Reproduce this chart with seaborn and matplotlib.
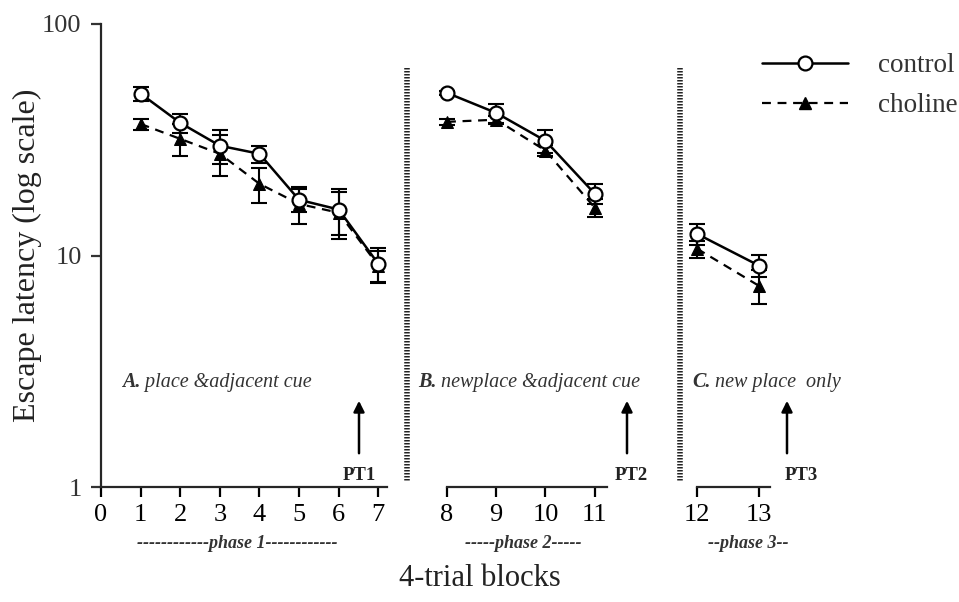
import matplotlib
matplotlib.use("Agg")
import matplotlib.pyplot as plt
import seaborn as sns
import numpy as np
import pandas as pd
from matplotlib.lines import Line2D

# ---------------- data ----------------
blocks_A = [1, 2, 3, 4, 5, 6, 7]
control_A = [50.0, 37.4, 29.8, 27.5, 17.4, 15.8, 9.2]
control_A_sem = [3.5, 3.5, 5.0, 2.3, 2.0, 3.5, 1.6]
choline_A = [37.0, 31.9, 27.5, 20.4, 16.7, 15.3, 9.05]
choline_A_sem = [2.0, 5.0, 5.5, 3.5, 3.0, 3.5, 1.4]

blocks_B = [8, 9, 10, 11]
control_B = [50.4, 41.3, 31.3, 18.5]
control_B_sem = [1.0, 4.0, 3.5, 1.8]
choline_B = [37.8, 38.6, 28.4, 16.1]
choline_B_sem = [1.0, 1.5, 1.5, 1.5]

blocks_C = [12, 13]
control_C = [12.4, 9.05]
control_C_sem = [1.3, 1.0]
choline_C = [10.7, 7.4]
choline_C_sem = [0.9, 1.25]

ticks_A = [0, 1, 2, 3, 4, 5, 6, 7]
ticks_B = [8, 9, 10, 11]
ticks_C = [12, 13]
y_ticks = [1, 10, 100]
y_tick_labels = ["1", "10", "100"]

panel_letters = ["A.", "B.", "C."]
panel_titles = [" place &adjacent cue", " newplace &adjacent cue", " new place  only"]
probe_labels = ["PT1", "PT2", "PT3"]
phase_labels = ["------------phase 1------------", "-----phase 2-----", "--phase 3--"]

# ---------------- style ----------------
sns.set_theme(style="ticks")
plt.rcParams['font.family'] = ['Liberation Serif', 'DejaVu Serif']
plt.rcParams['axes.linewidth'] = 1.6

W, H = 959, 602
fig = plt.figure(figsize=(W / 100, H / 100), dpi=100)

def fx(px):
    return px / W

def fy(py):
    return 1 - py / H

y_top, y_bot = 24, 487
axes_spec = [
    (101, 387, blocks_A, control_A, control_A_sem, choline_A, choline_A_sem, ticks_A, (0, 7.22)),
    (447, 607, blocks_B, control_B, control_B_sem, choline_B, choline_B_sem, ticks_B, (8, 11.25)),
    (697, 770, blocks_C, control_C, control_C_sem, choline_C, choline_C_sem, ticks_C, (12, 13.18)),
]

axes = []
for i, (l, r, bx, cy, cs, hy, hs, tks, xl) in enumerate(axes_spec):
    ax = fig.add_axes([fx(l), fy(y_bot), (r - l) / W, (y_bot - y_top) / H])
    axes.append(ax)
    df_c = pd.DataFrame({"block": bx, "latency": cy})
    df_h = pd.DataFrame({"block": bx, "latency": hy})
    ax.errorbar(bx, cy, yerr=cs, fmt='none', ecolor='black', elinewidth=1.5,
                capsize=6, capthick=1.5, zorder=2, clip_on=False)
    ax.errorbar(bx, hy, yerr=hs, fmt='none', ecolor='black', elinewidth=1.5,
                capsize=6, capthick=1.5, zorder=2, clip_on=False)
    sns.lineplot(data=df_h, x="block", y="latency", ax=ax, color='black',
                 linewidth=1.6, linestyle=(0, (4, 3)), marker='^', markersize=9,
                 markerfacecolor='black', markeredgecolor='black', zorder=3,
                 clip_on=False)
    sns.lineplot(data=df_c, x="block", y="latency", ax=ax, color='black',
                 linewidth=1.8, marker='o', markersize=10,
                 markerfacecolor='white', markeredgecolor='black',
                 markeredgewidth=1.6, zorder=4, clip_on=False)
    ax.set_yscale('log')
    ax.set_ylim(1, 100)
    ax.set_xlim(*xl)
    ax.set_xticks(tks)
    ax.set_xticklabels([str(t) for t in tks])
    ax.minorticks_off()
    ax.set_xlabel("")
    ax.set_ylabel("")
    ax.tick_params(axis='x', direction='out', length=7, width=1.6, pad=5,
                   labelsize=19, colors='black')
    for s in ['top', 'right']:
        ax.spines[s].set_visible(False)
    ax.patch.set_alpha(0)
    if i == 0:
        ax.set_yticks(y_ticks)
        ax.set_yticklabels(y_tick_labels)
        ax.minorticks_off()
        ax.tick_params(axis='y', direction='out', length=7, width=1.6, pad=7,
                       labelsize=19, colors='#333333')
        ax.set_ylabel("Escape latency (log scale)", fontsize=23, labelpad=0,
                      color='#222222')
    else:
        ax.spines['left'].set_visible(False)
        ax.set_yticks([])

# separators
for xs in (407, 680):
    fig.add_artist(Line2D([fx(xs), fx(xs)], [fy(68), fy(482)], color='#222222',
                          linewidth=4, linestyle=(0, (0.27, 0.27))))

# panel titles
title_pos = [(122, 382), (418, 382), (692, 382)]
for let, t, (px, py) in zip(panel_letters, panel_titles, title_pos):
    tx = fig.text(fx(px), fy(py), let, fontsize=14.5, style='italic', fontweight='bold',
                  color='#333333', ha='left', va='center')
    fig.canvas.draw()
    bb = tx.get_window_extent()
    fig.text(bb.x1 / W, fy(py), t, fontsize=14.5, style='italic', color='#333333',
             ha='left', va='center')

# probe-trial arrows and labels
arrows = [(359, 359, 476), (627, 631, 476), (787, 801, 476)]
for lab, (axp, lx, ly) in zip(probe_labels, arrows):
    fig.add_artist(matplotlib.patches.FancyArrowPatch(
        (fx(axp), fy(456)), (fx(axp), fy(398)), transform=fig.transFigure,
        arrowstyle='-|>', mutation_scale=16, color='black', linewidth=1.8))
    fig.text(fx(lx), fy(ly), lab, fontsize=13.5, fontweight='bold',
             ha='center', va='center', color='#222222')

# phase labels
phase_pos = [(237, 544), (523, 544), (748, 544)]
for t, (px, py) in zip(phase_labels, phase_pos):
    fig.text(fx(px), fy(py), t, fontsize=13, style='italic', fontweight='bold',
             ha='center', va='center', color='#333333')

fig.text(fx(480), fy(578), "4-trial blocks", fontsize=22, ha='center', va='center',
         color='#222222')

# legend
handles = [
    Line2D([], [], color='black', linewidth=1.8, marker='o', markersize=10,
           markerfacecolor='white', markeredgecolor='black', markeredgewidth=1.6),
    Line2D([], [], color='black', linewidth=1.6, linestyle=(0, (4, 3)), marker='^',
           markersize=9, markerfacecolor='black'),
]
fig.legend(handles, ["control", "choline"], loc='upper right',
           bbox_to_anchor=(fx(982), fy(29)), frameon=False, fontsize=19.5,
           handlelength=3.2, labelspacing=0.55, handletextpad=1.1,
           labelcolor='#333333')

fig.savefig("out.png", dpi=100)
